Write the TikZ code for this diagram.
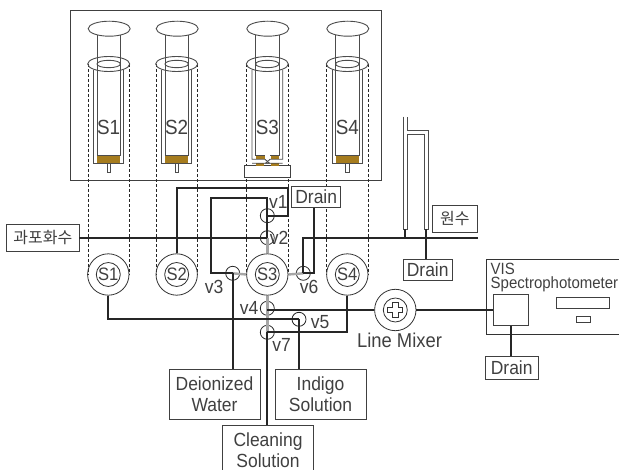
\documentclass[tikz,border=0pt]{standalone}
\usepackage{fontspec}
\setmainfont[FakeStretch=0.92]{Liberation Sans}
\newfontfamily\krfont{Noto Sans CJK KR}
\begin{document}
\begin{tikzpicture}[x=1pt, y=-1pt,
    every node/.style={text=black!75, font=\fontsize{19}{20.7}\selectfont, inner sep=0pt},
    box/.style={draw=black!75, line width=0.8pt, fill=white, align=center},
    pumpout/.style={draw=black!80, line width=0.8pt, circle, minimum size=41.4pt},
    pumpin/.style={draw=black!80, line width=0.8pt, circle, minimum size=24pt, font=\fontsize{18}{20}\selectfont},
    valve/.style={draw=black!85, line width=0.8pt, circle, minimum size=14pt},
    pipe/.style={line width=2.3pt, black!85},
    feed/.style={line width=2.4pt, black!35},
    wall/.style={line width=0.9pt, black!70},
    guide/.style={line width=0.6pt, black!85, dash pattern=on 2.6pt off 2.4pt}]
    \definecolor{brownfill}{RGB}{166, 124, 30}
    \clip (0,0) rectangle (619,470);

    % 1. Syringes in the frame
    \draw[line width=0.9pt, black!75] (70.7,10.7) rectangle (381,180.7);
    \foreach \name/\cx in {1/108.7, 2/176.7, 3/267.3, 4/347.3} {
        \draw[guide] (\cx-20.7,64) -- (\cx-20.7,275);
        \draw[guide] (\cx+20.7,64) -- (\cx+20.7,275);
        \draw[wall] (\cx+0.5,28.7) ellipse (21 and 7.5);
        \draw[wall] (\cx-11.7,35.5) -- (\cx-11.7,155.7);
        \draw[wall] (\cx+11.7,35.5) -- (\cx+11.7,155.7);
        \draw[wall] (\cx,64) ellipse (21 and 7.5);
        \draw[wall] (\cx,64) ellipse (11.7 and 3.7);
        \node (syr\name) at (\cx,127.5) {\fontsize{20.5}{20}\selectfont S\name};
    }
    \foreach \cx in {108.7, 176.7, 347.3} {
        \fill[brownfill] (\cx-11.7,155.7) rectangle (\cx+11.7,163.3);
        \draw[wall] (\cx-15,70) -- (\cx-15,163.3) -- (\cx+15,163.3) -- (\cx+15,70);
        \draw[wall] (\cx-11.7,155.7) -- (\cx+11.7,155.7);
        \draw[wall] (\cx-1.7,163.3) rectangle (\cx+1.7,172);
    }
    % S3 has the block under it
    \node[box, minimum width=46pt, minimum height=11.6pt] (block) at (267.7,171.5) {};
    \fill[brownfill] (255.7,155.7) rectangle (264.5,159.3);
    \fill[brownfill] (270.7,155.7) rectangle (278.7,159.3);
    \fill[brownfill] (255.7,163.3) rectangle (264,165.7);
    \fill[brownfill] (270.7,163.3) rectangle (278.7,165.7);
    \draw[wall] (252,70) -- (252,159.3) -- (265,159.3) -- (269.5,163.3) -- (252,163.3);
    \draw[wall] (282.7,70) -- (282.7,159.3) -- (270,159.3) -- (265.5,163.3) -- (282.7,163.3);
    \draw[wall] (255.7,155.7) -- (265,155.7);
    \draw[wall] (270,155.7) -- (278.7,155.7);

    % 2. Pumps, valves and boxes
    \foreach \name/\cx in {1/108.3, 2/176.7, 3/267.3, 4/347.3} {
        \node[pumpin, fill=white] (in\name) at (\cx,274.5) {S\name};
        \node[pumpout] (p\name) at (\cx,274.5) {};
    }
    \foreach \name/\cx/\cy in {1/267.3/215.7, 2/267.3/237.7, 3/232.7/273.3, 4/267.3/308.3, 5/299/319.3, 6/303.3/273.3, 7/267.3/332.3} {
        \node[valve] (v\name) at (\cx,\cy) {};
    }
    \node[pumpout] (mixer) at (395.3,310) {};
    \node[pumpin] (mixerin) at (395.3,310) {};
    \draw[line width=0.8pt, black!80] (392.6,302.5) -- ++(5.4,0) -- ++(0,4.8) -- ++(4.8,0) -- ++(0,5.4) -- ++(-4.8,0)
        -- ++(0,4.8) -- ++(-5.4,0) -- ++(0,-4.8) -- ++(-4.8,0) -- ++(0,-5.4) -- ++(4.8,0) -- cycle;

    \node[box, minimum width=72.3pt, minimum height=27pt] (oversat) at (42.8,237.8) {\krfont\fontsize{16}{20}\selectfont 과포화수};
    \node[box, minimum width=45.7pt, minimum height=26.6pt] (raw) at (454.8,219) {\krfont\fontsize{16}{20}\selectfont 원수};
    \node[box, minimum width=49pt, minimum height=20.6pt] (drainA) at (316.2,197) {Drain};
    \node[box, minimum width=49.3pt, minimum height=20.7pt] (drainB) at (427.7,269.7) {Drain};
    \node[box, minimum width=53.3pt, minimum height=23pt] (drainC) at (511.7,367.5) {Drain};
    \node[box, minimum width=91pt, minimum height=49.7pt] (water) at (214.5,394.2) {Deionized\\Water};
    \node[box, minimum width=91pt, minimum height=49.7pt] (indigo) at (320.5,394.2) {Indigo\\Solution};
    \node[box, minimum width=90.6pt, minimum height=49.7pt, anchor=north] (clean) at (268,424.7) {Cleaning\\Solution};

    % 3. Spectrophotometer
    \draw[line width=0.9pt, black!80] (625,259) -- (486.7,259) -- (486.7,334.3) -- (625,334.3);
    \node[box, minimum width=35pt, minimum height=31.4pt] (cell) at (510.8,310) {};
    \node[box, minimum width=53pt, minimum height=11.4pt] (display) at (583.2,303) {};
    \node[box, minimum width=14.3pt, minimum height=6pt] (lamp) at (583.2,319) {};
    \node[anchor=north west, align=left, font=\fontsize{16.3}{14}\selectfont] (vis) at (490.5,262.5) {VIS\\Spectrophotometer};

    % 4. Overflow tube
    \draw[wall] (403.3,116.7) -- (403.3,229.3) -- (407.3,229.3) -- (407.3,134) -- (424.3,134) -- (424.3,229.3)
        -- (428.3,229.3) -- (428.3,130) -- (407.3,130) -- (407.3,116.7);
    \coordinate (tubeA) at (405.3,229.3);
    \coordinate (tubeB) at (426.3,229.3);
    \coordinate (mainend) at (477.7,238.3);

    % 5. Gray lines around S3
    \draw[feed] (p3.north) -- (v2.center);
    \draw[feed] (p3.south) -- (v7.center);
    \draw[feed] (v3.center) -- (p3.west);
    \draw[feed] (p3.east) -- (v6.center);

    % 6. Thick lines
    \coordinate (topA) at (288,187.7);
    \coordinate (topB) at (211,197.7);
    \draw[pipe] (p2.north) |- (topA) |- (v1.center);
    \draw[pipe] (v2.center) -- (v1.center |- topB) -- (topB) |- (v3.center);
    \draw[pipe] (oversat.east |- v2.center) -- (v2.center);
    \draw[pipe] (v6.center) |- (mainend);
    \draw[pipe] ([xshift=-1.9]drainA.south) |- (v6.center);
    \draw[pipe] (v3.center) -- (v3.center |- water.north);
    \draw[pipe] (v5.center) -- (v5.center |- indigo.north);
    \draw[pipe] (v7.center) -- (v7.center |- clean.north);
    \draw[pipe] (p1.south) |- (v5.center);
    \draw[pipe] (p4.south) |- (v7.center);
    \draw[pipe] (v4.center |- mixer.west) -- (mixer.west);
    \draw[pipe] (mixer.east) -- (cell.west);
    \draw[pipe] (cell.south) -- (cell.south |- drainC.north);
    \draw[pipe] (tubeA) -- (tubeA |- mainend);
    \draw[pipe] (tubeB) -- (tubeB |- drainB.north);

    % 7. Labels
    \node (lv1) at (278.3,201.7) {v1};
    \node (lv2) at (279,237.7) {v2};
    \node (lv3) at (214,286.7) {v3};
    \node (lv4) at (249,308.3) {v4};
    \node (lv5) at (320,321.7) {v5};
    \node (lv6) at (309,286.7) {v6};
    \node (lv7) at (281.7,345) {v7};
    \node[font=\fontsize{20}{20}\selectfont] (lmix) at (399.5,340.5) {Line Mixer};
\end{tikzpicture}
\end{document}
